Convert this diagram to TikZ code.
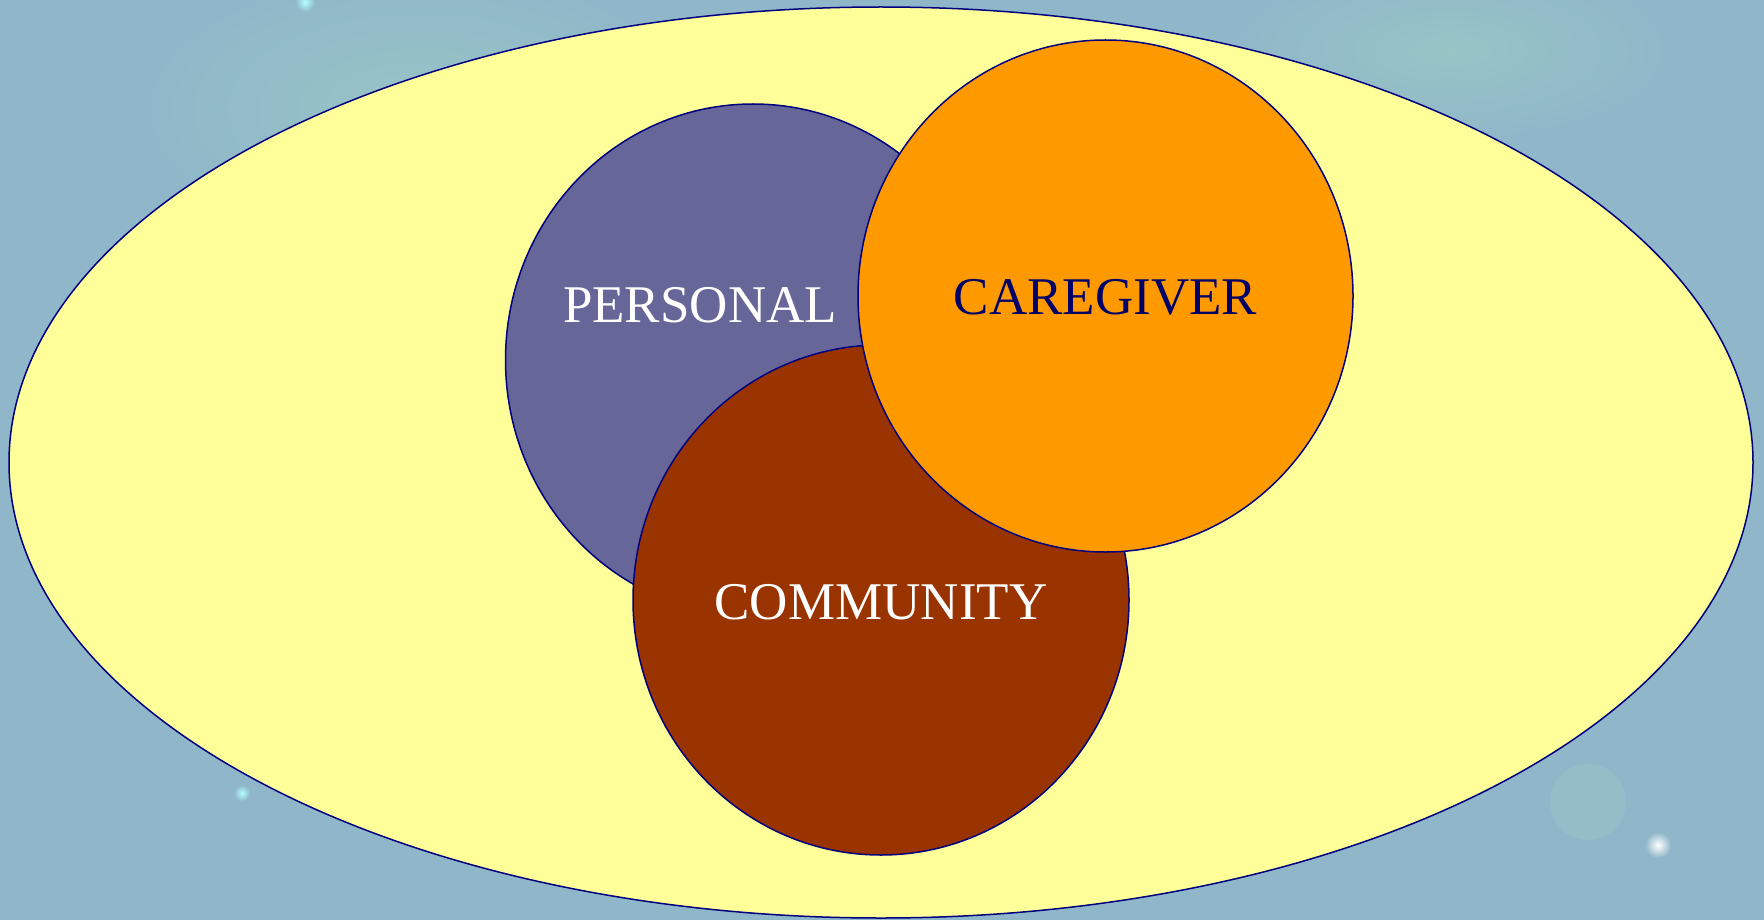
\documentclass[tikz,border=0pt]{standalone}
\usepackage{fontspec}
\setmainfont{Liberation Serif}
\usetikzlibrary{shapes.geometric}
\definecolor{bgblue}{HTML}{90B7C9}
\definecolor{bgblob}{HTML}{98C4C6}
\definecolor{paleyellow}{HTML}{FFFF99}
\definecolor{personalc}{HTML}{666699}
\definecolor{caregiverc}{HTML}{FF9900}
\definecolor{communityc}{HTML}{993300}
\definecolor{outline}{HTML}{000080}
\definecolor{navytext}{HTML}{000066}
\begin{document}
\begin{tikzpicture}[x=1pt,y=-1pt,
  setcircle/.style={ellipse, draw=outline, line width=1.5pt, inner sep=0pt, outer sep=0pt},
  label/.style={anchor=base, inner sep=0pt, font=\fontsize{53pt}{60pt}\selectfont}]
  % background
  \fill[bgblue] (0,0) rectangle (1764,920);
  \useasboundingbox (0,0) rectangle (1764,920);
  \fill[bgblob, opacity=0.5] (1588,802) circle (38);
  \shade[inner color=bgblob, outer color=bgblue] (420,110) ellipse [x radius=280, y radius=140];
  \shade[inner color=bgblob, outer color=bgblue] (1450,50) ellipse [x radius=220, y radius=90];
  \shade[inner color=white, outer color=bgblue] (1658,845) circle (13);
  \shade[inner color=white!70!cyan, outer color=bgblue] (305,2) circle (10);
  \shade[inner color=white!70!cyan, outer color=bgblue] (242,793) circle (8);
  % sets
  \node[setcircle, fill=paleyellow, minimum width=1744pt, minimum height=911pt] (outer) at (881,462.5) {};
  \node[setcircle, fill=personalc, minimum width=495pt, minimum height=512pt] (personal) at (753,360) {};
  \node[setcircle, fill=communityc, minimum width=496pt, minimum height=510pt] (community) at (881,600) {};
  \node[setcircle, fill=caregiverc, minimum width=495pt, minimum height=512pt] (caregiver) at (1105.5,296) {};
  % labels
  \node[label, text=white] (personalT) at (700,322) {PERSONAL};
  \node[label, text=navytext] (caregiverT) at (1105.5,314.5) {CAREGIVER};
  \node[label, text=white] (communityT) at (881,619) {COMMUNITY};
\end{tikzpicture}
\end{document}
